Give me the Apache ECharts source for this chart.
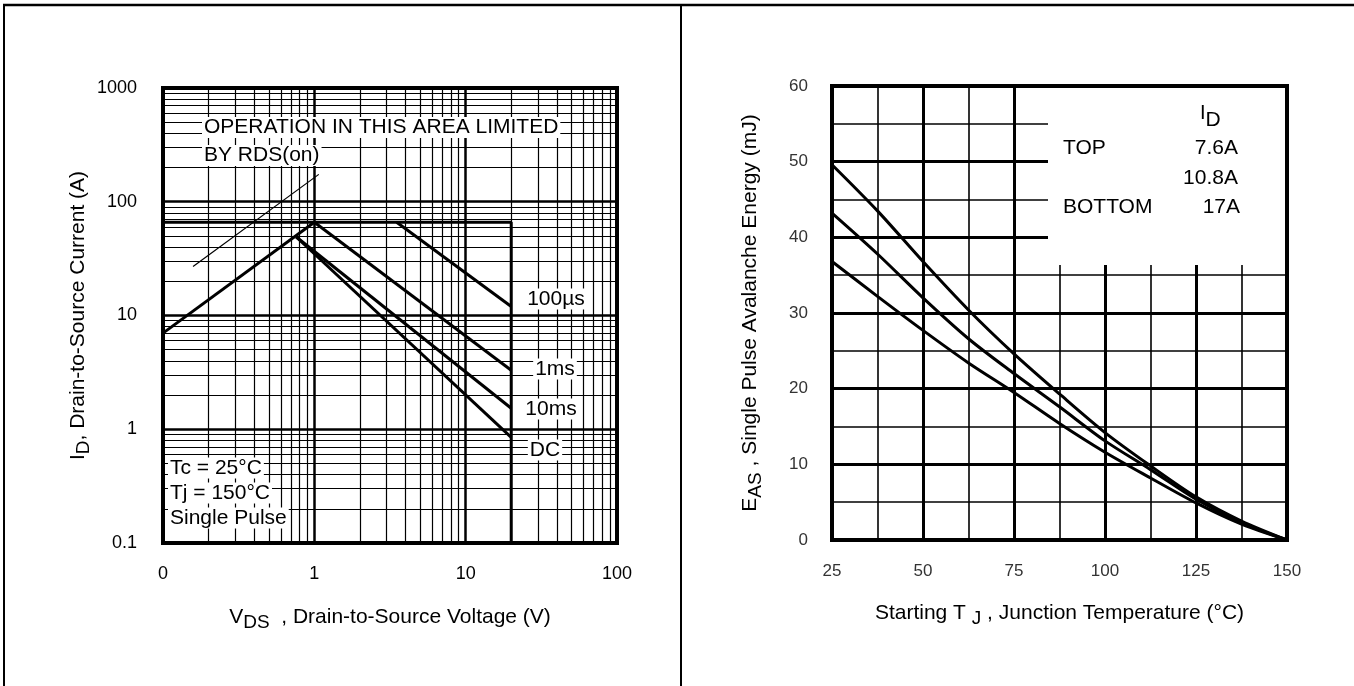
<!DOCTYPE html>
<html>
<head>
<meta charset="utf-8">
<title>SOA / EAS</title>
<script src="https://cdn.jsdelivr.net/npm/echarts@6/dist/echarts.min.js"></script>
<style>
  html, body { margin: 0; padding: 0; background: #fff; }
  #main { width: 1354px; height: 686px; }
</style>
</head>
<body>
<div id="main"></div>
<script>
// ---- left chart: maximum safe operating area (log / log) ----
var vdsTicks = [0.1, 1, 10, 100];
var vdsTickLabels = ['0', '1', '10', '100'];
var idTicks = [0.1, 1, 10, 100, 1000];
var idTickLabels = ['0.1', '1', '10', '100', '1000'];

var rdsLine = [[0.158, 27], [1.07, 174]];
var riseLine = [[0.1, 7.0], [1, 66]];
var limitLine = [[0.1, 66], [20, 66], [20, 0.1]];
var line100us = [[3.5, 66], [20, 12]];
var line1ms = [[1, 66], [20, 3.3]];
var line10ms = [[0.76, 49], [20, 1.53]];
var lineDC = [[0.76, 49], [20, 0.85]];

// ---- right chart: EAS vs starting TJ ----
var tj = [25, 37.5, 50, 62.5, 75, 87.5, 100, 112.5, 125, 137.5, 150];
var eas7_6A = [49.6, 43.5, 36.8, 30.4, 24.6, 19.3, 14.2, 9.8, 5.7, 2.5, 0];
var eas10_8A = [43.2, 37.8, 32.0, 26.6, 22.0, 17.6, 13.1, 9.3, 5.4, 2.3, 0];
var eas17A = [36.8, 32.2, 27.7, 23.4, 19.5, 15.4, 11.6, 8.2, 4.9, 2.1, 0];

var FONT = "'Liberation Sans', Arial, Helvetica, sans-serif";

function pickLabel(ticks, labels) {
  return function (v) {
    for (var i = 0; i < ticks.length; i++) {
      if (Math.abs(Math.log10(v) - Math.log10(ticks[i])) < 1e-6) return labels[i];
    }
    return '';
  };
}

// minor log grid (2..9 in every decade)
function minorLogLines(lo, hi) {
  var out = [];
  for (var d = lo; d < hi; d *= 10) {
    for (var m = 2; m <= 9; m++) out.push(+(d * m).toPrecision(3));
  }
  return out;
}
var minorX = minorLogLines(0.1, 100).map(function (v) { return { xAxis: v }; });
var minorY = minorLogLines(0.1, 1000).map(function (v) { return { yAxis: v }; });

function curve(data, xi, w) {
  return {
    type: 'line', xAxisIndex: xi, yAxisIndex: xi, data: data,
    showSymbol: false, silent: true, z: 10, animation: false,
    lineStyle: { color: '#000', width: w }
  };
}
function curveSmooth(xs, ys) {
  var s = curve(xs.map(function (x, i) { return [x, ys[i]]; }), 1, 3);
  s.smooth = 0.3;
  return s;
}

function txt(text, x, y, align, bg, size) {
  return {
    type: 'text', z: 6, silent: true,
    style: {
      text: text, x: x, y: y, fill: '#000',
      font: (size || 21) + 'px ' + FONT,
      align: align || 'left', verticalAlign: 'middle',
      textAlign: align || 'left', textVerticalAlign: 'middle',
      backgroundColor: bg ? '#fff' : null, padding: bg ? [0, 2, 0, 2] : 0
    }
  };
}

var nameRich = {
  m: { fontSize: 21, fontFamily: FONT, color: '#000', lineHeight: 30, verticalAlign: 'middle' },
  s: { fontSize: 19, fontFamily: FONT, color: '#000', lineHeight: 30, verticalAlign: 'bottom' }
};

var chart = echarts.init(document.getElementById('main'));

var option = {
  backgroundColor: '#fff',
  animation: false,
  grid: [
    { left: 163, top: 88, width: 454, height: 455, containLabel: false },
    { left: 832, top: 86, width: 455, height: 454, containLabel: false }
  ],
  xAxis: [
    {
      gridIndex: 0, type: 'log', logBase: 10, min: 0.1, max: 100,
      axisLine: { show: false }, axisTick: { show: false },
      splitLine: { show: true, lineStyle: { color: '#000', width: 2.5 } },
      axisLabel: { formatter: pickLabel(vdsTicks, vdsTickLabels), fontSize: 18, fontFamily: FONT, color: '#000', margin: 22 },
      name: '{m|V}{s|DS}{m|  , Drain-to-Source Voltage (V)}',
      nameLocation: 'middle', nameGap: 59,
      nameTextStyle: { rich: nameRich }
    },
    {
      gridIndex: 1, type: 'value', min: 25, max: 150, interval: 25,
      axisLine: { show: false }, axisTick: { show: false },
      splitLine: { show: true, lineStyle: { color: '#000', width: 3 } },
      minorTick: { show: false, splitNumber: 2 },
      minorSplitLine: { show: true, lineStyle: { color: '#000', width: 1.6 } },
      axisLabel: { fontSize: 17, fontFamily: FONT, color: '#333', margin: 23 },
      name: '{m|Starting T }{s|J}{m| , Junction Temperature (°C)}',
      nameLocation: 'middle', nameGap: 58,
      nameTextStyle: { rich: nameRich }
    }
  ],
  yAxis: [
    {
      gridIndex: 0, type: 'log', logBase: 10, min: 0.1, max: 1000,
      axisLine: { show: false }, axisTick: { show: false },
      splitLine: { show: true, lineStyle: { color: '#000', width: 2.5 } },
      axisLabel: { formatter: pickLabel(idTicks, idTickLabels), fontSize: 18, fontFamily: FONT, color: '#000', margin: 26 },
      name: '{m|I}{s|D}{m|, Drain-to-Source Current (A)}',
      nameLocation: 'middle', nameGap: 64, nameRotate: 90,
      nameTextStyle: { rich: nameRich }
    },
    {
      gridIndex: 1, type: 'value', min: 0, max: 60, interval: 10,
      axisLine: { show: false }, axisTick: { show: false },
      splitLine: { show: true, lineStyle: { color: '#000', width: 3 } },
      minorTick: { show: false, splitNumber: 2 },
      minorSplitLine: { show: true, lineStyle: { color: '#000', width: 1.6 } },
      axisLabel: { fontSize: 17, fontFamily: FONT, color: '#333', margin: 24 },
      name: '{m|E}{s|AS}{m| , Single Pulse Avalanche Energy (mJ)}',
      nameLocation: 'middle', nameGap: 67, nameRotate: 90,
      nameTextStyle: { rich: nameRich }
    }
  ],
  series: [
    {
      type: 'line', xAxisIndex: 0, yAxisIndex: 0, data: [], silent: true, z: 1,
      markLine: {
        silent: true, symbol: ['none', 'none'], animation: false,
        label: { show: false },
        lineStyle: { type: 'solid', color: '#000', width: 1.2 },
        data: minorX.concat(minorY)
      }
    },
    curve(rdsLine, 0, 1.2),
    curve(riseLine, 0, 3),
    curve(limitLine, 0, 3),
    curve(line100us, 0, 3),
    curve(line1ms, 0, 3),
    curve(line10ms, 0, 3),
    curve(lineDC, 0, 3),
    curveSmooth(tj, eas7_6A),
    curveSmooth(tj, eas10_8A),
    curveSmooth(tj, eas17A)
  ],
  graphic: [
    // page frame
    { type: 'line', z: 60, silent: true, shape: { x1: 3, y1: 5, x2: 1354, y2: 5 }, style: { stroke: '#000', lineWidth: 2.5 } },
    { type: 'line', z: 60, silent: true, shape: { x1: 4, y1: 5, x2: 4, y2: 686 }, style: { stroke: '#000', lineWidth: 2 } },
    { type: 'line', z: 60, silent: true, shape: { x1: 681, y1: 5, x2: 681, y2: 686 }, style: { stroke: '#000', lineWidth: 2 } },
    // plot borders
    { type: 'rect', z: 50, silent: true, shape: { x: 163, y: 88, width: 454, height: 455 }, style: { fill: 'none', stroke: '#000', lineWidth: 4 } },
    { type: 'rect', z: 50, silent: true, shape: { x: 832, y: 86, width: 455, height: 454 }, style: { fill: 'none', stroke: '#000', lineWidth: 4 } },
    // legend area on the right chart
    { type: 'rect', z: 5, silent: true, shape: { x: 1048, y: 87, width: 238, height: 178 }, style: { fill: '#fff' } },
    // left chart notes
    txt('OPERATION IN THIS AREA LIMITED', 202, 127.5, 'left', true),
    txt('BY RDS(on)', 202, 155.5, 'left', true),
    txt('100µs', 556, 299, 'center', true),
    txt('1ms', 555, 369, 'center', true),
    txt('10ms', 551, 409, 'center', true),
    txt('DC', 545, 450, 'center', true),
    txt('Tc = 25°C', 168, 468, 'left', true),
    txt('Tj = 150°C', 168, 493, 'left', true),
    txt('Single Pulse', 168, 518, 'left', true),
    // right chart legend
    {
      type: 'text', z: 6, silent: true,
      style: {
        text: '{m|I}{s|D}', x: 1200, y: 117, align: 'left', verticalAlign: 'middle',
        textAlign: 'left', textVerticalAlign: 'middle',
        rich: {
          m: { fontSize: 20, fontFamily: FONT, fill: '#000', lineHeight: 28, verticalAlign: 'top' },
          s: { fontSize: 21, fontFamily: FONT, fill: '#000', lineHeight: 28, verticalAlign: 'bottom' }
        }
      }
    },
    txt('TOP', 1063, 148.5, 'left', false),
    txt('7.6A', 1238, 148.5, 'right', false),
    txt('10.8A', 1238, 178.5, 'right', false),
    txt('BOTTOM', 1063, 207.5, 'left', false),
    txt('17A', 1240, 207.5, 'right', false)
  ]
};

chart.setOption(option);
</script>
</body>
</html>
